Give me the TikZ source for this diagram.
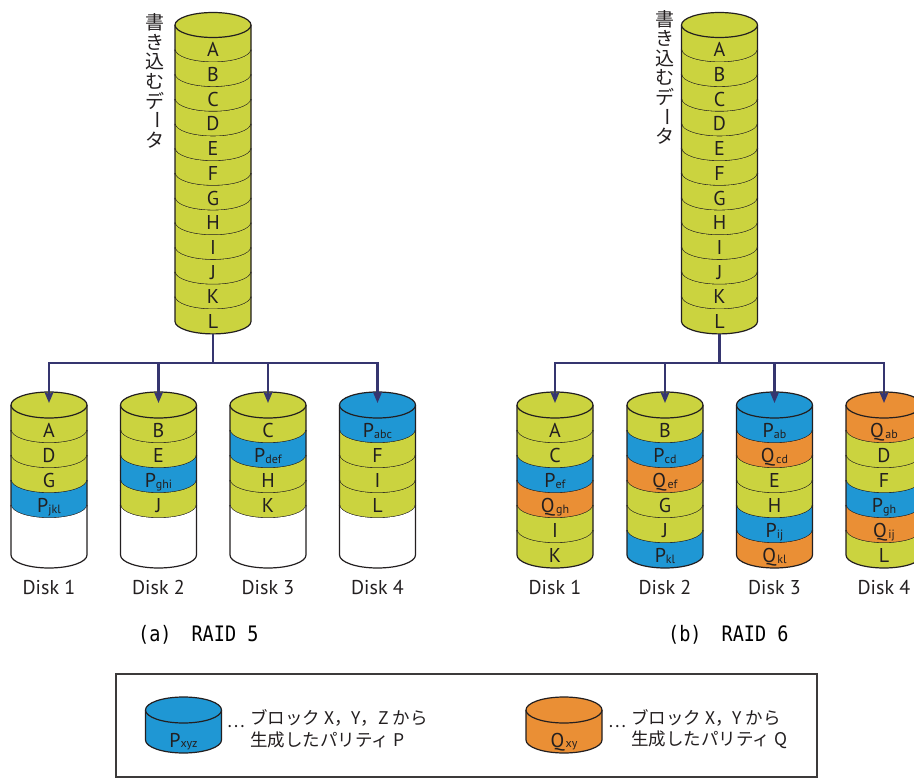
\documentclass[tikz,border=0pt]{standalone}
\usepackage{fontspec}
\usepackage{graphicx}
\setmainfont{PT Sans}
\newfontfamily\cjk{Noto Sans CJK JP}
\newfontfamily\monof{DejaVu Sans Mono}
\usetikzlibrary{arrows.meta}
\definecolor{cY}{HTML}{CBD33F}
\definecolor{cB}{HTML}{1F97D4}
\definecolor{cO}{HTML}{EA8F35}
\definecolor{ol}{HTML}{231F20}
\definecolor{nv}{HTML}{35356F}
\definecolor{bx}{HTML}{3C3A3A}
\tikzset{
 outl/.style={draw=ol, line width=1.2pt},
 lbl/.style={font=\fontsize{20}{20}\selectfont, inner sep=0pt, text=ol, anchor=base},
 dlbl/.style={font=\fontsize{20}{20}\selectfont, inner sep=0pt, text=ol, anchor=base},
 conn/.style={draw=nv, line width=2.2pt},
 arr/.style={conn, -{Stealth[length=11pt,width=9pt,inset=2pt]}},
 vch/.style={font=\cjk\fontsize{19}{19}\selectfont, inner sep=0pt, text=ol},
 lgt/.style={font=\cjk\fontsize{17.5}{17.5}\selectfont, inner sep=0pt, text=ol, anchor=west},
 captxt/.style={font=\monof\fontsize{18.5}{18.5}\selectfont, inner sep=0pt, text=black, anchor=west},
}
\newcommand\sbs[1]{\raisebox{-0.5pt}{\fontsize{12}{12}\selectfont #1}}
\newcommand\Qs[1]{Q\kern1.5pt\sbs{#1}}
\newcommand\vbar{\rotatebox[origin=c]{-90}{ー}}
% band: cx, y0, h, ry, color, name, label
\newcommand\band[7]{%
  \fill[fill=#5] (#1-38,#2) -- (#1-38,#2+#3) arc[start angle=180,end angle=0,x radius=38,y radius=#4] -- (#1+38,#2) arc[start angle=0,end angle=180,x radius=38,y radius=#4] -- cycle;
  \draw[outl] (#1-38,#2) -- (#1-38,#2+#3) arc[start angle=180,end angle=0,x radius=38,y radius=#4] -- (#1+38,#2);
  \node[lbl] (#6) at (#1,#2+#3/2+#4+7) {#7};
}
\newcommand\wband[4]{%
  \fill[fill=white] (#1-38,#2) -- (#1-38,#2+#3) arc[start angle=180,end angle=0,x radius=38,y radius=#4] -- (#1+38,#2) arc[start angle=0,end angle=180,x radius=38,y radius=#4] -- cycle;
  \draw[outl] (#1-38,#2) -- (#1-38,#2+#3) arc[start angle=180,end angle=0,x radius=38,y radius=#4] -- (#1+38,#2);
}
\newcommand\topstack[2]{%
  \foreach \t [count=\i from 0] in {A,B,C,D,E,F,G,H,I,J,K,L}{
    \band{#1}{25+24.7*\i}{24.7}{12.5}{cY}{#2\t}{\t}
  }
  \filldraw[fill=cY,outl] (#1,25) ellipse [x radius=38,y radius=12.5];
}
% disk: cx, name, top color, list
\newcommand\disk[4]{%
  \foreach \c/\t [count=\i from 0] in {#4}{
    \band{#1}{405+25*\i}{25}{13}{\c}{#2-\i}{\t}
  }
  \filldraw[fill=#3,outl] (#1,405) ellipse [x radius=38,y radius=13];
}
\newcommand\lcyl[4]{%
  \filldraw[fill=#2,outl] (#1-38,710) -- (#1-38,740) arc[start angle=180,end angle=0,x radius=38,y radius=13] -- (#1+38,710);
  \filldraw[fill=#2,outl] (#1,710) ellipse [x radius=38,y radius=13];
  \node[lbl] (#3) at (#1,747) {#4};
}
\begin{document}
\begin{tikzpicture}[x=1pt,y=-1pt]
\useasboundingbox (0,0) rectangle (914,778);
\fill[white] (0,0) rectangle (914,778);

% ---------- vertical captions
\foreach \ch [count=\k from 0] in {書,き,込,む,デ,\vbar,タ}{
  \node[vch] (vl\k) at (155,22.5+19.6*\k) {\ch};
  \node[vch] (vr\k) at (665,19+19.6*\k) {\ch};
}

% ---------- top stacks
\topstack{213}{L}
\topstack{719.5}{R}

% ---------- RAID 5 disks
\disk{49}{a1}{cY}{cY/A,cY/D,cY/G,cB/P\sbs{jkl}}
\wband{49}{505}{50}{13}
\disk{158.5}{a2}{cY}{cY/B,cY/E,cB/P\sbs{ghi},cY/J}
\wband{158.5}{505}{50}{13}
\disk{268}{a3}{cY}{cY/C,cB/P\sbs{def},cY/H,cY/K}
\wband{268}{505}{50}{13}
\disk{377.5}{a4}{cB}{cB/P\sbs{abc},cY/F,cY/I,cY/L}
\wband{377.5}{505}{50}{13}

% ---------- RAID 6 disks
\disk{555}{b1}{cY}{cY/A,cY/C,cB/P\sbs{ef},cO/\Qs{gh},cY/I,cY/K}
\disk{665}{b2}{cY}{cY/B,cB/P\sbs{cd},cO/\Qs{ef},cY/G,cY/J,cB/P\sbs{kl}}
\disk{774.5}{b3}{cB}{cB/P\sbs{ab},cO/\Qs{cd},cY/E,cY/H,cB/P\sbs{ij},cO/\Qs{kl}}
\disk{884}{b4}{cO}{cO/\Qs{ab},cY/D,cY/F,cB/P\sbs{gh},cO/\Qs{ij},cY/L}

% ---------- disk labels
\foreach \x/\n in {49/1,158.5/2,268/3,377.5/4}{
  \node[dlbl] (da\n) at (\x,594) {Disk \n};
}
\foreach \x/\n in {555/1,665/2,774.5/3,884/4}{
  \node[dlbl] (db\n) at (\x,594) {Disk \n};
}

% ---------- connectors
\coordinate (Lbot) at (213,334);
\coordinate (Lj) at (213,363);
\coordinate (Rbot) at (719.5,334);
\coordinate (Rj) at (719.5,363);
\foreach \x/\n in {49/1,158.5/2,268/3,377.5/4}{\coordinate (Ld\n) at (\x,403);}
\foreach \x/\n in {555/1,665/2,774.5/3,884/4}{\coordinate (Rd\n) at (\x,403);}
\draw[conn] (Lbot) -- (Lj);
\draw[conn] (Rbot) -- (Rj);
\foreach \n in {1,...,4}{
  \draw[arr] (Lj) -| (Ld\n);
  \draw[arr] (Rj) -| (Rd\n);
}

% ---------- captions
\node[captxt] (capa) at (138,635) {\scalebox{1}[1.15]{(a)\hspace{20pt}RAID 5}};
\node[captxt] (capb) at (668,635) {\scalebox{1}[1.15]{(b)\hspace{20pt}RAID 6}};

% ---------- legend
\draw[draw=bx, line width=1.4pt] (116,674) rectangle (817,777);
\lcyl{183.5}{cB}{lp}{P\sbs{xyz}}
\node[vch, font=\cjk\fontsize{17}{17}\selectfont] (dp) at (236,727) {…};
\node[lgt] (lp1) at (250,718) {ブロック X，Y，Z から};
\node[lgt] (lp2) at (250,740) {生成したパリティ P};
\lcyl{564}{cO}{lq}{\Qs{xy}}
\node[vch, font=\cjk\fontsize{17}{17}\selectfont] (dq) at (617,727) {…};
\node[lgt] (lq1) at (631,718) {ブロック X，Y から};
\node[lgt] (lq2) at (631,740) {生成したパリティ Q};
\end{tikzpicture}
\end{document}
